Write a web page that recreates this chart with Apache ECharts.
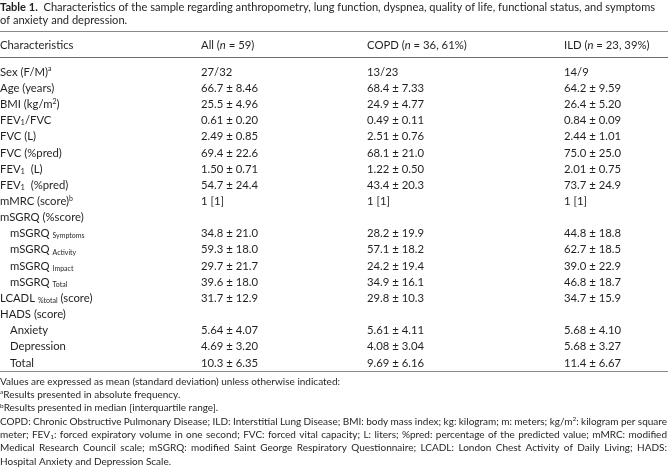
<!DOCTYPE html>
<html><head><meta charset="utf-8">
<script src="https://cdn.jsdelivr.net/npm/echarts@6/dist/echarts.min.js"></script>
<style>html,body{margin:0;padding:0;background:#fff}#c{width:668px;height:468px}</style>
</head><body><div id="c"></div>
<script>
const titleBold = 'Table 1.';
const titleLines = [
  'Characteristics of the sample regarding anthropometry, lung function, dyspnea, quality of life, functional status, and symptoms',
  'of anxiety and depression.'
];
const headers = ['Characteristics', 'All ({i|n} = 59)', 'COPD ({i|n} = 36, 61%)', 'ILD ({i|n} = 23, 39%)'];
const characteristics = [
  'Sex (F/M){sup|a}', 'Age (years)', 'BMI (kg/m{sup|2})', 'FEV{sub|1}/FVC', 'FVC (L)', 'FVC (%pred)',
  'FEV{sub|1}  (L)', 'FEV{sub|1}  (%pred)', 'mMRC (score){sup|b}', 'mSGRQ (%score)',
  'mSGRQ {sub2|Symptoms}', 'mSGRQ {sub2|Activity}', 'mSGRQ {sub2|Impact}', 'mSGRQ {sub2|Total}',
  'LCADL {sub2|%total} (score)', 'HADS (score)', 'Anxiety', 'Depression', 'Total'
];
const rowLevel = [0,0,0,0,0,0,0,0,0,0,1,1,1,1,0,0,1,1,1];
const allValues = ['27/32','66.7 ± 8.46','25.5 ± 4.96','0.61 ± 0.20','2.49 ± 0.85','69.4 ± 22.6','1.50 ± 0.71','54.7 ± 24.4','1 [1]','','34.8 ± 21.0','59.3 ± 18.0','29.7 ± 21.7','39.6 ± 18.0','31.7 ± 12.9','','5.64 ± 4.07','4.69 ± 3.20','10.3 ± 6.35'];
const copdValues = ['13/23','68.4 ± 7.33','24.9 ± 4.77','0.49 ± 0.11','2.51 ± 0.76','68.1 ± 21.0','1.22 ± 0.50','43.4 ± 20.3','1 [1]','','28.2 ± 19.9','57.1 ± 18.2','24.2 ± 19.4','34.9 ± 16.1','29.8 ± 10.3','','5.61 ± 4.11','4.08 ± 3.04','9.69 ± 6.16'];
const ildValues = ['14/9','64.2 ± 9.59','26.4 ± 5.20','0.84 ± 0.09','2.44 ± 1.01','75.0 ± 25.0','2.01 ± 0.75','73.7 ± 24.9','1 [1]','','44.8 ± 18.8','62.7 ± 18.5','39.0 ± 22.9','46.8 ± 18.7','34.7 ± 15.9','','5.68 ± 4.10','5.68 ± 3.27','11.4 ± 6.67'];
const footnotes = [
  'Values are expressed as mean (standard deviation) unless otherwise indicated:',
  '{fsup|a}Results presented in absolute frequency.',
  '{fsup|b}Results presented in median [interquartile range].',
  'COPD: Chronic Obstructive Pulmonary Disease; ILD: Interstitial Lung Disease; BMI: body mass index; kg: kilogram; m: meters; kg/m{fsup|2}: kilogram per square',
  'meter; FEV{fsub|1}: forced expiratory volume in one second; FVC: forced vital capacity; L: liters; %pred: percentage of the predicted value; mMRC: modified',
  'Medical Research Council scale; mSGRQ: modified Saint George Respiratory Questionnaire; LCADL: London Chest Activity of Daily Living; HADS:',
  'Hospital Anxiety and Depression Scale.'
];
const footnoteJustified = [false, false, false, true, true, true, false];

const FONT = 'Lato, "Open Sans", sans-serif';
const INK = '#231f20';
const RULE = '#8a8a8a';
const BODY = 11.3;
const TITLE = 11.1;
const NOTE = 10;
const colX = [0, 201, 367, 564];
const rich = {
  i: {fontStyle: 'italic', fontSize: BODY, fontFamily: FONT, fill: INK},
  sup: {fontSize: 7, fontFamily: FONT, fill: INK, padding: [0, 0, 6, 0]},
  sub: {fontSize: 7.5, fontFamily: FONT, fill: INK, padding: [5, 0, 0, 0]},
  sub2: {fontSize: 7, fontFamily: FONT, fill: INK, padding: [5, 0, 0, 0]},
  b: {fontWeight: 'bold', fontSize: TITLE, fontFamily: FONT, fill: INK},
  fsup: {fontSize: 6.5, fontFamily: FONT, fill: INK, padding: [0, 0, 5, 0]},
  fsub: {fontSize: 6.5, fontFamily: FONT, fill: INK, padding: [4, 0, 0, 0]}
};

function styleOf(text, size) {
  return {text: text, fontSize: size, fontFamily: FONT, fill: INK, rich: rich, verticalAlign: 'middle', align: 'left'};
}
function txt(x, y, text, size) {
  return {type: 'text', x: x, y: y, style: styleOf(text, size)};
}
function measure(text, size) {
  const t = new echarts.graphic.Text({style: styleOf(text, size)});
  return t.getBoundingRect().width;
}

const chart = echarts.init(document.getElementById('c'), null, {renderer: 'canvas'});
const W = 668;

const graphics = [];
graphics.push(txt(0, 7.5, '{b|' + titleBold + '}  ' + titleLines[0], TITLE));
graphics.push(txt(0, 20, titleLines[1], TITLE));
graphics.push({type: 'line', shape: {x1: 0, y1: 31.5, x2: W, y2: 31.5}, style: {stroke: RULE, lineWidth: 1}});
headers.forEach(function (h, k) { graphics.push(txt(colX[k], 45, h, BODY)); });
graphics.push({type: 'line', shape: {x1: 0, y1: 57.5, x2: W, y2: 57.5}, style: {stroke: '#6e6e6e', lineWidth: 1}});
footnotes.forEach(function (f, k) {
  const y = 381.5 + k * 13.3;
  if (!footnoteJustified[k]) { graphics.push(txt(0, y, f, NOTE)); return; }
  const words = f.split(' ');
  const widths = words.map(function (w) { return measure(w, NOTE); });
  const total = widths.reduce(function (a, b) { return a + b; }, 0);
  const gap = (W - 1 - total) / (words.length - 1);
  let x = 0;
  words.forEach(function (w, j) { graphics.push(txt(x, y, w, NOTE)); x += widths[j] + gap; });
});

chart.setOption({
  animation: false,
  backgroundColor: '#fff',
  grid: {left: 0, right: 0, top: 64, bottom: 97, containLabel: false},
  xAxis: {type: 'value', min: 0, max: 1, show: false},
  yAxis: {
    type: 'category', inverse: true, data: characteristics.map(function (c, i) { return String(i); }),
    axisLine: {show: false}, axisTick: {show: false}, axisLabel: {show: false}, splitLine: {show: false}
  },
  graphic: graphics,
  series: [{
    type: 'custom',
    coordinateSystem: 'cartesian2d',
    encode: {x: 0, y: 1},
    data: characteristics.map(function (c, i) { return [0, i]; }),
    renderItem: function (params, api) {
      const i = params.dataIndex;
      const pt = api.coord([0, api.value(1)]);
      const y = pt[1];
      const x0 = params.coordSys.x;
      const children = [
        txt(x0 + colX[0] + rowLevel[i] * 10, y, characteristics[i], BODY),
        txt(x0 + colX[1], y, allValues[i], BODY),
        txt(x0 + colX[2], y, copdValues[i], BODY),
        txt(x0 + colX[3], y, ildValues[i], BODY)
      ];
      if (i === characteristics.length - 1) {
        const bottom = params.coordSys.y + params.coordSys.height;
        children.push({type: 'line', shape: {x1: 0, y1: bottom + 0.5, x2: W, y2: bottom + 0.5}, style: {stroke: RULE, lineWidth: 1}});
      }
      return {type: 'group', children: children};
    }
  }]
});
</script></body></html>
